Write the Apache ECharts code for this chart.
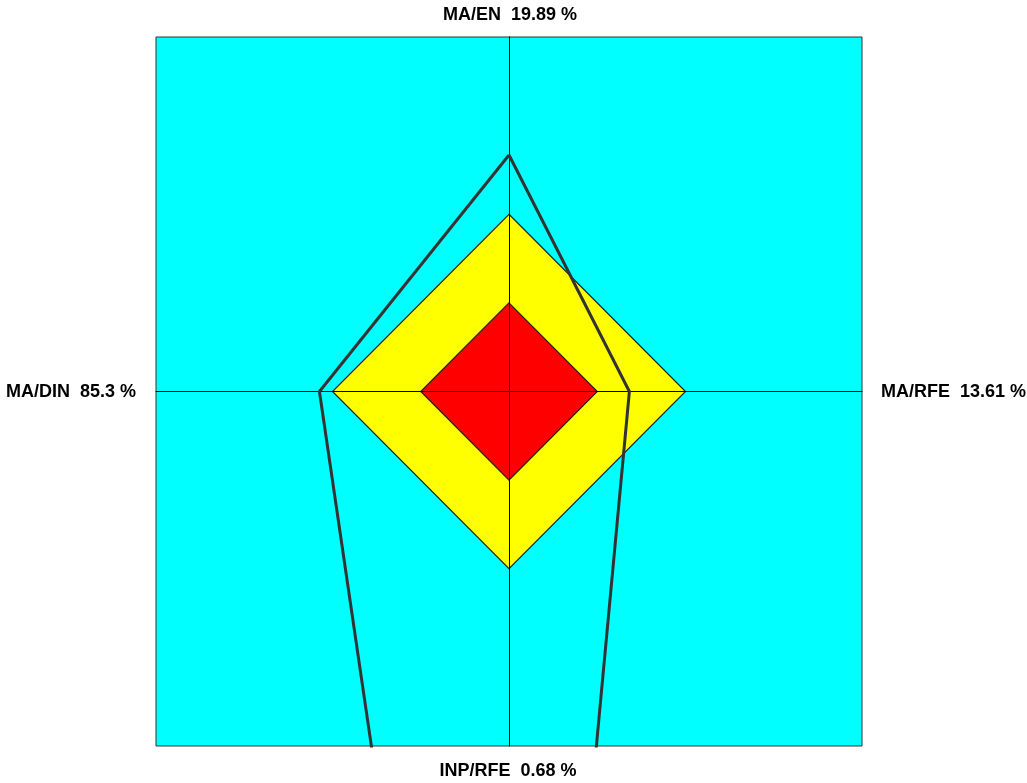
<!DOCTYPE html>
<html>
<head>
<meta charset="utf-8">
<script src="https://cdn.jsdelivr.net/npm/echarts@6/dist/echarts.min.js"></script>
<style>
  html, body { margin: 0; padding: 0; background: #fff; }
  #chart { width: 1027px; height: 783px; }
</style>
</head>
<body>
<div id="chart"></div>
<script>
// axis names and their percentages (top, right, bottom, left)
const axisNames = ['MA/EN', 'MA/RFE', 'INP/RFE', 'MA/DIN']
const axisValues = ['19.89', '13.61', '0.68', '85.3']

// zones, in normalised units (top, right, bottom, left)
const yellowZone = [0.5, 0.5, 0.5, 0.5]
const redZone = [0.25, 0.25, 0.25, 0.25]
// measured profile (same order)
const profile = [0.667, 0.341, 3.65, 0.537]

function toPoints(r) {
    // top, right, bottom, left
    return [[0, r[0]], [r[1], 0], [0, -r[2]], [-r[3], 0]]
}

function polygonSeries(vals, color) {
    const pts = toPoints(vals)
    return {
        type: 'custom',
        data: [0],
        silent: true,
        z: 2,
        renderItem: function (params, api) {
            return {
                type: 'polygon',
                shape: { points: pts.map(p => api.coord(p)) },
                style: { fill: color, stroke: '#222', lineWidth: 1.2 }
            }
        }
    }
}

const profilePts = toPoints(profile)
profilePts.push(profilePts[0])

const chart = echarts.init(document.getElementById('chart'))
const labelFont = 'bold 18px "Liberation Sans", Arial, sans-serif'

chart.setOption({
    animation: false,
    grid: {
        left: 156, top: 37, width: 706, height: 709,
        show: true, backgroundColor: '#00ffff', borderColor: '#333', borderWidth: 1
    },
    xAxis: {
        type: 'value', min: -1, max: 1, z: 4,
        axisLine: { show: true, onZero: true, lineStyle: { color: '#000', width: 1 } },
        axisTick: { show: false }, axisLabel: { show: false }, splitLine: { show: false }
    },
    yAxis: {
        type: 'value', min: -1, max: 1, z: 4,
        axisLine: { show: true, onZero: true, lineStyle: { color: '#000', width: 1 } },
        axisTick: { show: false }, axisLabel: { show: false }, splitLine: { show: false }
    },
    series: [
        polygonSeries(yellowZone, '#ffff00'),
        polygonSeries(redZone, '#ff0000'),
        {
            type: 'line',
            data: profilePts,
            symbol: 'none',
            clip: true,
            z: 6,
            lineStyle: { color: '#333', width: 3 }
        }
    ],
    graphic: [
        { type: 'text', x: 510, y: 15, style: { text: axisNames[0] + '  ' + axisValues[0] + ' %', font: labelFont, fill: '#000', textAlign: 'center', textVerticalAlign: 'middle' } },
        { type: 'text', x: 1026, y: 392, style: { text: axisNames[1] + '  ' + axisValues[1] + ' %', font: labelFont, fill: '#000', textAlign: 'right', textVerticalAlign: 'middle' } },
        { type: 'text', x: 508, y: 771, style: { text: axisNames[2] + '  ' + axisValues[2] + ' %', font: labelFont, fill: '#000', textAlign: 'center', textVerticalAlign: 'middle' } },
        { type: 'text', x: 6, y: 392, style: { text: axisNames[3] + '  ' + axisValues[3] + ' %', font: labelFont, fill: '#000', textAlign: 'left', textVerticalAlign: 'middle' } }
    ]
})
</script>
</body>
</html>
